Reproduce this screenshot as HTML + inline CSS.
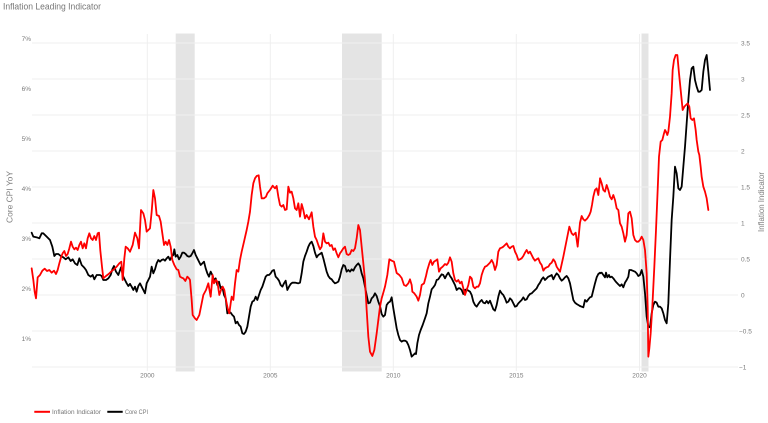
<!DOCTYPE html>
<html>
<head>
<meta charset="utf-8">
<style>
html,body{margin:0;padding:0;background:#fff;}
svg{display:block;}
text{font-family:"Liberation Sans",Arial,sans-serif;}
</style>
</head>
<body>
<svg width="768" height="423" viewBox="0 0 768 423" xmlns="http://www.w3.org/2000/svg">
<rect x="0" y="0" width="768" height="423" fill="#fff"/>
<!-- title -->
<text x="3" y="9.5" font-size="9" fill="#777" textLength="98" lengthAdjust="spacingAndGlyphs">Inflation Leading Indicator</text>

<!-- recession bands -->
<g fill="#e4e4e4">
<rect x="175.7" y="33.5" width="19" height="338"/>
<rect x="342" y="33.5" width="39.7" height="338"/>
<rect x="641.5" y="33.5" width="7" height="338"/>
</g>

<!-- gridlines -->
<g stroke="#efefef" stroke-width="1" fill="none">
<line x1="32" y1="43" x2="738" y2="43"/>
<line x1="32" y1="79" x2="738" y2="79"/>
<line x1="32" y1="115" x2="738" y2="115"/>
<line x1="32" y1="151" x2="738" y2="151"/>
<line x1="32" y1="187" x2="738" y2="187"/>
<line x1="32" y1="223" x2="738" y2="223"/>
<line x1="32" y1="259" x2="738" y2="259"/>
<line x1="32" y1="295" x2="738" y2="295"/>
<line x1="32" y1="331" x2="738" y2="331"/>
<line x1="32" y1="367" x2="738" y2="367"/>
<line x1="147.3" y1="34" x2="147.3" y2="371"/>
<line x1="270.3" y1="34" x2="270.3" y2="371"/>
<line x1="393.3" y1="34" x2="393.3" y2="371"/>
<line x1="516.3" y1="34" x2="516.3" y2="371"/>
<line x1="639.5" y1="34" x2="639.5" y2="371"/>
</g>

<!-- left ticks -->
<g font-size="6.5" fill="#7a7a7a" text-anchor="end">
<text x="31" y="40.8">7%</text>
<text x="31" y="90.8">6%</text>
<text x="31" y="140.8">5%</text>
<text x="31" y="190.8">4%</text>
<text x="31" y="240.8">3%</text>
<text x="31" y="290.8">2%</text>
<text x="31" y="340.8">1%</text>
</g>
<!-- right ticks -->
<g font-size="6.5" fill="#7a7a7a" text-anchor="start">
<text x="741" y="45.5">3.5</text>
<text x="741" y="81.5">3</text>
<text x="741" y="117.5">2.5</text>
<text x="741" y="153.5">2</text>
<text x="741" y="189.5">1.5</text>
<text x="741" y="225.5">1</text>
<text x="741" y="261.5">0.5</text>
<text x="741" y="297.5">0</text>
<text x="739" y="333.5">−0.5</text>
<text x="739" y="369.5">−1</text>
</g>
<!-- x ticks -->
<g font-size="6.5" fill="#7a7a7a" text-anchor="middle">
<text x="147.3" y="377.5">2000</text>
<text x="270.3" y="377.5">2005</text>
<text x="393.3" y="377.5">2010</text>
<text x="516.3" y="377.5">2015</text>
<text x="639.5" y="377.5">2020</text>
</g>
<!-- axis titles -->
<text transform="translate(12.5,197) rotate(-90)" font-size="8" fill="#808080" text-anchor="middle" textLength="52" lengthAdjust="spacingAndGlyphs">Core CPI YoY</text>
<text transform="translate(764,202) rotate(-90)" font-size="8" fill="#808080" text-anchor="middle" textLength="60" lengthAdjust="spacingAndGlyphs">Inflation Indicator</text>

<!-- series -->
<g fill="none" stroke-linejoin="round" stroke-linecap="round" stroke-width="5.4">
<!-- Black: Core CPI -->
<g stroke="#000">
<polyline transform="translate(0,180) scale(0.33333)" points="95,158 100,170 110,172 118,175 125,160 130,160 140,170 150,180 157,200 163,228 168,222 175,222 182,228 190,232 197,238 205,232 212,243 218,238 225,250 232,255 238,235 245,255 252,262 258,270 265,285 272,290 278,285 283,298 290,285 300,285 305,288 310,300 318,300 325,295 332,285 337,268 342,258 348,275 355,285 363,262 370,290 375,300 380,310 385,318 390,312"/>
<polyline transform="translate(130,180) scale(0.33333)" points="0,312 5,320 10,330 15,320 20,335 25,318 30,310 35,320 40,330 45,340 50,310 55,300 60,290 65,260 70,280 75,268 80,250 85,240 90,245 95,240 100,238 105,242 110,235 115,230 120,240 125,230 130,225 133,208 137,230 142,225 147,238 152,230 157,218 162,218 167,222 172,228 177,230 182,228 187,220 192,210 197,225 202,235 207,245 212,255 217,250 222,245 227,265 232,280 237,290 242,275 247,285 252,300 257,295 262,315 267,305 272,325 277,320 282,345 287,355 292,400 297,395 302,398 307,405 312,410 317,430 322,425 327,435 332,440 337,460 342,462 347,455 352,440 357,410 362,380 367,365 372,362 377,350 382,360 387,345 392,330 397,320 402,305 407,290 412,285 417,285 422,280 427,272 432,270 437,290 442,295 447,302 452,315 457,320 462,310 467,302 472,330 477,320 482,312 487,308 495,308 505,310 510,308 515,280 520,245 525,228 530,215 535,200 540,190 545,185 550,198 555,218 560,232 565,225 570,222 575,218 580,235 585,255 590,275 595,288 600,295 605,298 610,305 615,310 620,308 625,305 630,290 635,268 640,255 645,258 650,275 655,270 660,275 665,268 670,272 675,262 680,255 685,250 690,258 695,280 700,295 705,320 710,345 715,370 720,368 725,355 730,350 735,340 740,348 745,365 750,378"/>
<polyline transform="translate(380,170) scale(0.33333)" points="0,408 5,432 10,440 15,435 20,405 25,398 30,395 35,382 40,415 45,445 50,475 55,495 60,510 65,515 70,512 75,512 80,515 85,525 90,540 95,560 100,555 105,550 108,552 112,520 117,495 122,480 128,465 135,445 140,430 145,400 150,380 155,358 160,352 165,345 170,330 175,328 180,320 185,313 190,315 195,325 200,315 205,308 210,318 215,325 220,335 225,345 230,360 235,355 240,355 245,360 250,372 255,360 260,358 265,362 270,365 275,375 280,395 285,405 290,410 295,402 300,395 305,390 310,398 315,400 320,393 325,400 330,392 335,405 340,418 345,422 350,405 355,380 360,362 365,370 370,375 375,385 380,398 385,395 390,385 395,390 400,400 405,410 410,408 415,400 420,395 425,390 430,382 435,390 440,388 445,378 450,372 455,370 460,365 465,360 470,355 475,345 480,338 485,328 490,322 495,330 500,325 505,320 510,318 515,315 520,328 525,318 530,310 535,315 540,325 545,332 550,328 555,322 560,318 565,325 570,340 575,365 580,390 585,398 590,402 595,405 600,408"/>
<polyline transform="translate(560,200) scale(0.33333)" points="60,318 65,320 70,322 75,300 80,305 85,298 90,292 95,290 100,270 105,250 110,232 115,222 120,218"/>
<polyline transform="translate(600,40) scale(0.33333)" points="0,700 5,698 10,705 15,712 18,698 22,712 27,705 30,712 35,710 40,715 45,722 50,728 55,733 60,738 65,733 70,742 75,728 80,720 85,710 88,690 93,690 98,692 105,695 110,700 115,708 120,705 125,690 130,710 135,760 140,830 145,860 150,862 155,820 160,795 165,785 170,788 175,800 180,800 185,805 190,820 195,840 200,850 205,790 210,660 215,540 220,470 225,380 230,400 235,445 240,450 245,440 250,380 255,320 260,250 265,180 270,120 275,85 280,80 285,120 290,140 295,155 300,155 305,150 310,95 315,60 320,45 325,95 330,150"/>
</g>
<!-- Red: Inflation Indicator -->
<g stroke="#ff0000">
<polyline transform="translate(0,180) scale(0.33333)" points="95,265 100,300 104,335 108,355 113,292 120,285 127,272 134,266 141,273 148,270 155,278 162,272 168,282 173,270 178,250 183,232 188,220 193,213 198,228 203,222 208,205 213,185 218,200 223,208 228,203 233,210 238,195 243,185 248,205 253,190 258,205 263,175 268,160 273,175 278,180 283,168 288,180 293,160 297,158 301,212 306,260 310,295 318,288 326,282 334,274 342,268 350,260 358,250 364,245 368,300 373,235 377,200 383,205 388,212 390,215"/>
<polyline transform="translate(130,180) scale(0.33333)" points="0,215 8,195 15,158 22,175 27,205 33,90 40,100 45,120 50,155 55,150 60,145 65,95 70,30 75,55 80,105 87,108 92,125 97,160 102,195 107,185 112,195 117,180 122,200 127,240 133,255 140,268 145,270 150,290 155,293 160,295 166,303 172,290 177,295 180,300 185,360 188,405 195,415 200,420 208,405 215,370 220,345 228,330 235,310 242,350 248,285 252,310 258,300 262,305 268,345 273,330 278,320 283,330 288,360 293,385 298,400 302,370 305,350 310,360 315,310 320,270 325,275 330,240 335,215 342,185 350,150 355,125 360,95 365,45 370,10 375,-5 380,-12 386,-14 390,20 395,55 402,55 408,50 412,40 420,30 428,17 435,25 440,18 445,50 450,75 455,80 460,75 465,90 470,88 475,20 480,38 485,35 490,55 495,85 500,90 505,70 510,110 515,72 520,90 525,115 530,105 537,118 545,97 550,140 555,170 560,180 565,195 570,208 575,200 580,160 585,185 590,190 595,188 600,198 605,195 610,210 615,205 620,220 625,232 630,220 635,213 640,205 645,200 650,222 655,225 660,222 665,210 670,213 675,205 680,175 685,135 690,150 695,200 700,250 705,300 710,390 715,470 720,515 727,528 733,510 740,460 745,420"/>
<polyline transform="translate(380,170) scale(0.33333)" points="-5,450 0,410 5,385 10,368 15,350 22,315 28,268 35,272 42,275 50,309 58,315 65,324 72,345 78,348 85,340 90,328 95,345 97,365 103,370 110,380 115,392 120,375 125,345 132,340 138,318 142,300 148,280 152,270 157,285 162,275 167,272 172,268 177,305 182,295 188,290 195,282 200,285 205,278 210,262 215,275 220,310 225,330 230,335 235,330 240,340 245,335 250,355 255,375 260,360 265,345 270,320 275,325 280,350 285,355 290,350 295,350 300,340 305,315 310,300 315,290 320,288 325,283 330,278 335,270 340,280 345,300 350,285 355,245 360,235 365,233 370,230 375,225 380,220 385,230 390,235 395,230 400,228 405,245 410,255 415,270 420,268 425,265 430,258 435,248 440,240 445,250 450,245 455,255 460,265 465,272 470,268 475,265 480,278 485,285 490,302 495,295 500,292 505,290 510,282 515,278 520,268 525,275 530,290 535,298 540,305"/>
<polyline transform="translate(560,200) scale(0.33333)" points="0,215 10,170 20,120 28,80 35,100 40,105 47,98 53,140 60,68 65,48 70,58 75,62 82,55 88,45 92,35 96,15 100,-10 105,-30 110,-35 115,-15 120,-62"/>
<polyline transform="translate(600,40) scale(0.33333)" points="0,415 5,430 10,450 15,455 20,435 25,450 30,470 35,478 40,465 45,480 50,505 55,510 60,550 65,560 70,580 75,605 80,585 85,520 90,515 95,535 100,585 105,600 110,605 115,605 120,600 125,590 130,600 135,630 140,700 143,800 145,950 148,925 152,880 157,800 163,680 168,570 173,450 177,350 182,305 187,300 192,280 195,270 198,275 202,285 205,275 210,230 215,160 218,90 222,60 227,45 232,45 237,100 242,150 248,210 253,200 258,195 263,190 268,200 272,235 277,240 282,235 287,270 290,300 295,335 298,345 302,380 305,410 310,440 315,455 320,475 325,510"/>
</g>
</g>

<!-- legend -->
<line x1="34.3" y1="411.8" x2="50" y2="411.8" stroke="#ff0000" stroke-width="2"/>
<text x="52" y="414" font-size="6.5" fill="#777" textLength="49" lengthAdjust="spacingAndGlyphs">Inflation Indicator</text>
<line x1="107.3" y1="411.8" x2="122.7" y2="411.8" stroke="#000" stroke-width="2"/>
<text x="125" y="414" font-size="6.5" fill="#777" textLength="23" lengthAdjust="spacingAndGlyphs">Core CPI</text>
</svg>
</body>
</html>
